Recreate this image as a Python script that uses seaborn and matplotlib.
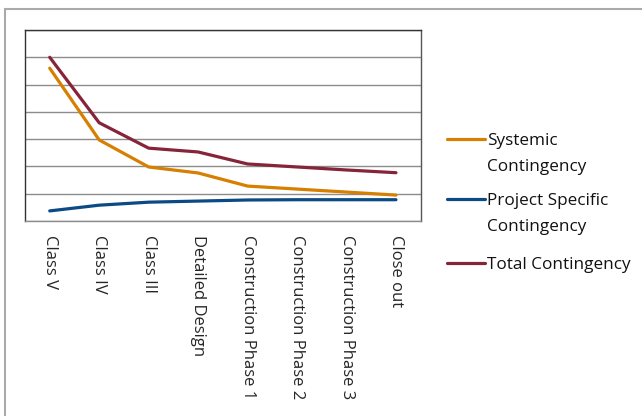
import pandas as pd
import numpy as np
import seaborn as sns
import matplotlib.pyplot as plt
from matplotlib.lines import Line2D

# Data
phases = ['Class V', 'Class IV', 'Class III', 'Detailed Design',
          'Construction Phase 1', 'Construction Phase 2',
          'Construction Phase 3', 'Close out']
systemic = [5.6, 2.97, 1.98, 1.76, 1.28, 1.17, 1.06, 0.95]
project_specific = [0.37, 0.58, 0.69, 0.73, 0.77, 0.78, 0.78, 0.78]
total = [6.0, 3.6, 2.67, 2.53, 2.09, 1.98, 1.87, 1.77]

series_names = ['Systemic Contingency', 'Project Specific Contingency', 'Total Contingency']
legend_lines = [['Systemic', 'Contingency'], ['Project Specific', 'Contingency'], ['Total Contingency']]
colors = ['#D67F00', '#0B4A85', '#86243A']

df = pd.DataFrame({
    'Phase': phases * 3,
    'Series': [series_names[0]] * 8 + [series_names[1]] * 8 + [series_names[2]] * 8,
    'Value': systemic + project_specific + total,
})
df['x'] = df['Phase'].map({p: i for i, p in enumerate(phases)})

sns.set_style('white')
plt.rcParams['font.family'] = ['Open Sans', 'DejaVu Sans']

W, H = 642, 416
fig = plt.figure(figsize=(6.42, 4.16), dpi=100)
ax = fig.add_axes([25 / W, (H - 221) / H, 395.7 / W, 191 / H])

sns.lineplot(data=df, x='x', y='Value', hue='Series', palette=colors,
             hue_order=series_names, linewidth=2.3, ax=ax, legend=False)

ax.set_xlim(-0.5, 7.5)
ax.set_ylim(0, 7)
ax.set_yticks(range(0, 8))
ax.yaxis.grid(True, color='#8c8c8c', linewidth=1)
ax.set_axisbelow(True)
ax.tick_params(axis='y', left=False, labelleft=False)

ax.set_xticks(range(8))
ax.set_xticklabels(phases, rotation=270, fontsize=12, va='top', ha='center')
ax.set_xticks(np.arange(-0.5, 8, 1), minor=True)
ax.tick_params(axis='x', which='major', length=0, pad=10)
ax.tick_params(axis='x', which='minor', length=5, color='#8c8c8c', width=1)
ax.set_xlabel('')
ax.set_ylabel('')

for side in ['left', 'top']:
    ax.spines[side].set_color('#333333')
ax.spines['right'].set_color('#555555')
ax.spines['bottom'].set_color('#8c8c8c')
for sp in ax.spines.values():
    sp.set_linewidth(1)

# legend drawn by hand: handle sits on the first text line, as in the reference
handle_y = [139, 199, 263]
for c, lines, hy in zip(colors, legend_lines, handle_y):
    fig.add_artist(Line2D([447 / W, 485 / W], [1 - hy / H, 1 - hy / H], color=c, linewidth=2.3))
    for k, t in enumerate(lines):
        fig.text(487 / W, 1 - (hy + 6 + 26 * k) / H, t, fontsize=12.3,
                 ha='left', va='baseline', color='#111111')

# outer chart frame (only top and left visible in the reference)
fig.add_artist(Line2D([5 / W, 1], [1 - 9 / H, 1 - 9 / H], color='#aaaaaa', linewidth=1.5))
fig.add_artist(Line2D([5 / W, 5 / W], [0, 1 - 9 / H], color='#aaaaaa', linewidth=1.5))

fig.savefig('out.png', dpi=100)
